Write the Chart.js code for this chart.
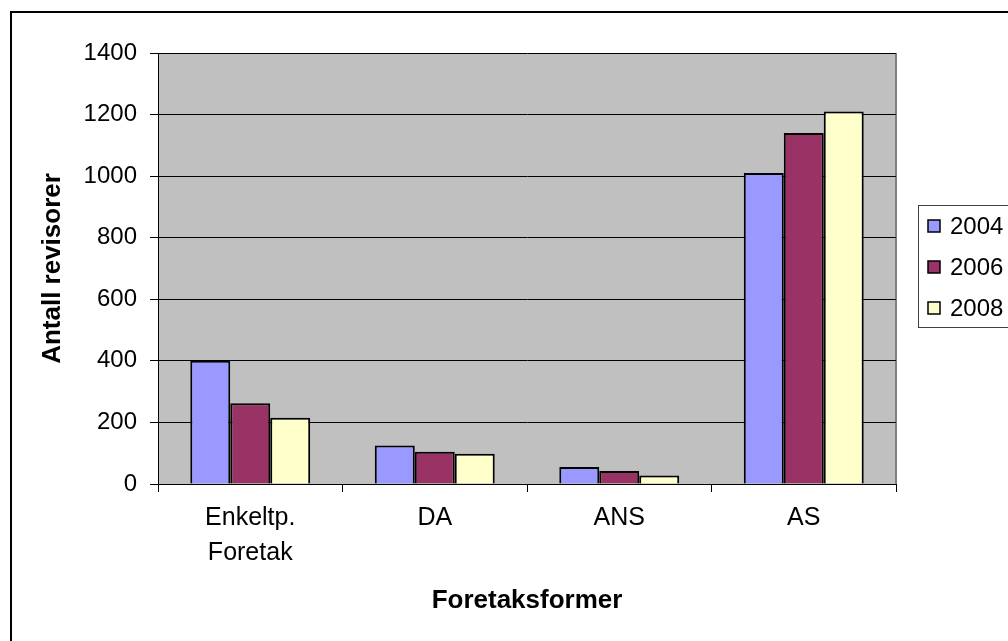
<!DOCTYPE html>
<html><head><meta charset="utf-8">
<script src="https://cdn.jsdelivr.net/npm/chart.js@4/dist/chart.umd.min.js"></script>
<style>
html,body{margin:0;padding:0;background:#fff;}
#wrap{position:relative;width:1008px;height:641px;overflow:hidden;}
#frame{position:absolute;left:10px;top:11px;width:1100px;height:700px;border:2.5px solid #000;box-sizing:border-box;}
canvas{position:absolute;left:0;top:0;}
</style></head>
<body><div id="wrap"><div id="frame"></div><canvas id="c" width="1008" height="641"></canvas></div>
<script>
const categories = [['Enkeltp.','Foretak'],'DA','ANS','AS'];
const seriesNames = ['2004','2006','2008'];
const values2004 = [400,125,55,1010];
const values2006 = [262,105,42,1140];
const values2008 = [215,98,28,1210];
const yTicks = [0,200,400,600,800,1000,1200,1400];
const seriesColors = ['#9999FF','#993366','#FFFFCC'];
const xTitle = 'Foretaksformer';
const yTitle = 'Antall revisorer';

const FONT = "'Liberation Sans', Arial, sans-serif";
Chart.defaults.font.family = FONT;
Chart.defaults.color = '#000';

const plotBg = {
  id:'plotBg',
  beforeDraw(chart){
    const {ctx, chartArea:a} = chart;
    ctx.save();
    ctx.fillStyle = '#C0C0C0';
    ctx.fillRect(a.left, a.top, a.right-a.left, a.bottom-a.top);
    ctx.strokeStyle = '#808080';
    ctx.lineWidth = 2;
    ctx.beginPath();
    ctx.moveTo(a.right, a.top); ctx.lineTo(a.right, a.bottom);
    ctx.stroke();
    ctx.restore();
  }
};

const boxLegend = {
  id:'boxLegend',
  afterDraw(chart){
    const {ctx, chartArea:a} = chart;
    const left = a.right + 22, top = 205, h = 122;
    ctx.save();
    ctx.strokeStyle = '#404040';
    ctx.lineWidth = 1;
    ctx.strokeRect(left+0.5, top+0.5, 200, h);
    ctx.font = '24px ' + FONT;
    ctx.textBaseline = 'middle';
    ctx.textAlign = 'left';
    chart.data.datasets.forEach((ds, i) => {
      const y = top + 21 + i*41;
      ctx.fillStyle = ds.backgroundColor;
      ctx.fillRect(left+10, y-6, 12, 12);
      ctx.strokeStyle = '#000';
      ctx.lineWidth = 1.5;
      ctx.strokeRect(left+10, y-6, 12, 12);
      ctx.fillStyle = '#000';
      ctx.fillText(ds.label, left+32, y+1);
    });
    ctx.restore();
  }
};

const allValues = [values2004, values2006, values2008];
new Chart(document.getElementById('c'), {
  type:'bar',
  data:{
    labels: categories,
    datasets: seriesNames.map((n,i)=>({
      label:n, data:allValues[i], backgroundColor:seriesColors[i],
      borderColor:'#000', borderWidth:2,
      categoryPercentage:0.65, barPercentage:1.0
    }))
  },
  options:{
    responsive:false, animation:false,
    layout:{padding:{left:0,right:112,top:53,bottom:0}},
    plugins:{legend:{display:false}, tooltip:{enabled:false}},
    scales:{
      x:{
        grid:{offset:true, drawOnChartArea:false, drawTicks:true, tickLength:8, color:'#000', lineWidth:1},
        border:{display:true, color:'#000', width:1},
        ticks:{padding:9, font:{size:25, lineHeight:1.4}, color:'#000', maxRotation:0, autoSkip:false},
        title:{display:true, text:xTitle, font:{size:26, weight:'bold'}, color:'#000', padding:{top:0,bottom:25}},
        afterFit(s){ s.height = 157; }
      },
      y:{
        min:0, max:1400,
        afterBuildTicks(s){ s.ticks = yTicks.map(v=>({value:v})); },
        grid:{color:'#000', tickLength:8, lineWidth:1},
        border:{color:'#000', width:1},
        ticks:{padding:13, font:{size:24}, color:'#000', callback:(v)=>String(v)},
        title:{display:true, text:yTitle, font:{size:26, weight:'bold'}, color:'#000', padding:{top:37,bottom:0}},
        afterFit(s){ s.width = 158; }
      }
    }
  },
  plugins:[plotBg, boxLegend]
});
</script>
</body></html>
